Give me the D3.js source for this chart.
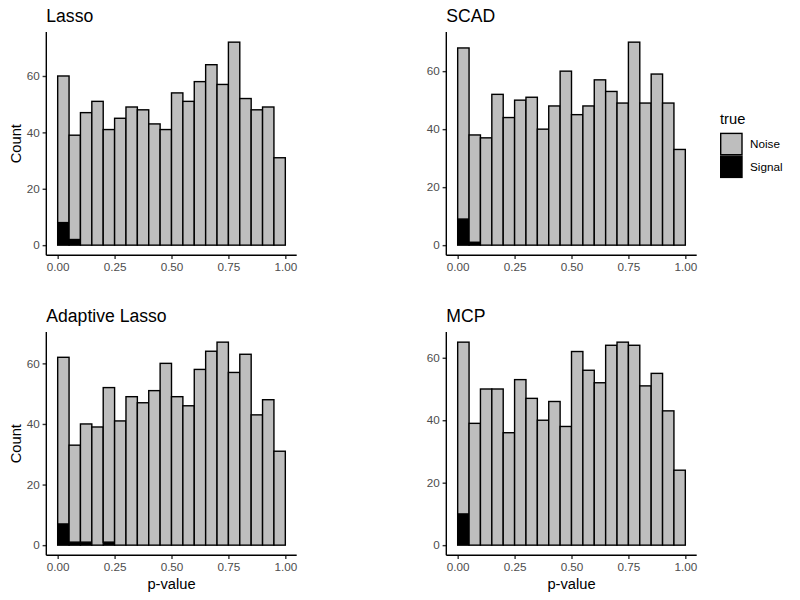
<!DOCTYPE html>
<html>
<head>
<meta charset="utf-8">
<script src="https://cdn.jsdelivr.net/npm/d3@7"></script>
<style>
  html, body { margin: 0; padding: 0; background: #ffffff; }
  svg { display: block; font-family: "Liberation Sans", Arial, sans-serif; }
</style>
</head>
<body>
<svg id="chart" width="800" height="600"></svg>
<script>
// ---------------- DATA ----------------
const methods = ["Lasso", "SCAD", "Adaptive Lasso", "MCP"];
const binStarts = [0.00, 0.05, 0.10, 0.15, 0.20, 0.25, 0.30, 0.35, 0.40, 0.45,
                   0.50, 0.55, 0.60, 0.65, 0.70, 0.75, 0.80, 0.85, 0.90, 0.95];
const binWidth = 0.05;
const groups = ["Signal", "Noise"];       // stacking order (Signal at bottom)
const legendOrder = ["Noise", "Signal"];
const legendTitle = "true";

const lassoNoise    = [52, 37, 47, 51, 41, 45, 49, 48, 43, 41, 54, 51, 58, 64, 57, 72, 52, 48, 49, 31];
const lassoSignal   = [ 8,  2,  0,  0,  0,  0,  0,  0,  0,  0,  0,  0,  0,  0,  0,  0,  0,  0,  0,  0];
const scadNoise     = [59, 37, 37, 52, 44, 50, 51, 40, 48, 60, 45, 48, 57, 53, 49, 70, 49, 59, 49, 33];
const scadSignal    = [ 9,  1,  0,  0,  0,  0,  0,  0,  0,  0,  0,  0,  0,  0,  0,  0,  0,  0,  0,  0];
const adaptNoise    = [55, 32, 39, 39, 51, 41, 49, 47, 51, 60, 49, 46, 58, 64, 67, 57, 63, 43, 48, 31];
const adaptSignal   = [ 7,  1,  1,  0,  1,  0,  0,  0,  0,  0,  0,  0,  0,  0,  0,  0,  0,  0,  0,  0];
const mcpNoise      = [55, 39, 50, 50, 36, 53, 47, 40, 46, 38, 62, 56, 52, 64, 65, 64, 51, 55, 43, 24];
const mcpSignal     = [10,  0,  0,  0,  0,  0,  0,  0,  0,  0,  0,  0,  0,  0,  0,  0,  0,  0,  0,  0];

const xTicks = [0, 0.25, 0.5, 0.75, 1.0];
const yTicks = [0, 20, 40, 60];
const xLabel = "p-value";
const yLabel = "Count";

// ---------------- STYLE / LAYOUT ----------------
const fills = { Noise: "#BEBEBE", Signal: "#000000" };
const panels = [
  { name: methods[0], noise: lassoNoise, signal: lassoSignal, x0: 46.3, x1: 296.7, y0: 32, y1: 255.3, showY: true,  showX: false },
  { name: methods[1], noise: scadNoise,  signal: scadSignal,  x0: 446.3, x1: 696.7, y0: 32, y1: 255.3, showY: false, showX: false },
  { name: methods[2], noise: adaptNoise, signal: adaptSignal, x0: 46.3, x1: 296.7, y0: 332, y1: 555.3, showY: true,  showX: true },
  { name: methods[3], noise: mcpNoise,   signal: mcpSignal,   x0: 446.3, x1: 696.7, y0: 332, y1: 555.3, showY: false, showX: true }
];
const lineW = 1.4;
const tickLen = 3.7;
const tickColor = "#333333";
const labelColor = "#4D4D4D";

const svg = d3.select("#chart");

panels.forEach(p => {
  const rows = binStarts.map((b, i) => ({ x: b, Signal: p.signal[i], Noise: p.noise[i] }));
  const stacked = d3.stack().keys(groups)(rows);
  const maxTotal = d3.max(rows, d => d.Signal + d.Noise);

  const xMin = binStarts[0], xMax = binStarts[binStarts.length - 1] + binWidth;
  const xPad = (xMax - xMin) * 0.05;
  const x = d3.scaleLinear().domain([xMin - xPad, xMax + xPad]).range([p.x0, p.x1]);
  const yPad = maxTotal * 0.05;
  const y = d3.scaleLinear().domain([-yPad, maxTotal + yPad]).range([p.y1, p.y0]);

  const g = svg.append("g");

  // bars: noise layer first drawn? draw in stack order, signal then noise
  stacked.forEach(layer => {
    g.append("g")
      .selectAll("rect")
      .data(layer.filter(d => d[1] - d[0] > 0))
      .join("rect")
      .attr("x", d => x(d.data.x))
      .attr("width", d => x(d.data.x + binWidth) - x(d.data.x))
      .attr("y", d => y(d[1]))
      .attr("height", d => y(d[0]) - y(d[1]))
      .attr("fill", fills[layer.key])
      .attr("stroke", "#000")
      .attr("stroke-width", lineW);
  });

  // axes
  const xAxis = d3.axisBottom(x).tickValues(xTicks).tickFormat(d3.format(".2f"))
    .tickSize(tickLen).tickPadding(3.2).tickSizeOuter(0);
  const yAxis = d3.axisLeft(y).tickValues(yTicks).tickFormat(d3.format("d"))
    .tickSize(tickLen).tickPadding(2.9).tickSizeOuter(0);

  const gx = g.append("g").attr("transform", `translate(0,${p.y1})`).call(xAxis);
  const gy = g.append("g").attr("transform", `translate(${p.x0},0)`).call(yAxis);

  [gx, gy].forEach(ax => {
    ax.select(".domain").remove();
    ax.selectAll(".tick line").attr("stroke", tickColor).attr("stroke-width", lineW);
    ax.selectAll(".tick text").attr("fill", labelColor)
      .style("font-size", "11.7px").style("font-family", "'Liberation Sans', Arial, sans-serif");
  });
  gx.selectAll(".tick text").attr("dy", "0.78em");

  // axis lines (theme_classic)
  g.append("line").attr("x1", p.x0).attr("x2", p.x1).attr("y1", p.y1).attr("y2", p.y1)
    .attr("stroke", "#000").attr("stroke-width", lineW);
  g.append("line").attr("x1", p.x0).attr("x2", p.x0).attr("y1", p.y0).attr("y2", p.y1)
    .attr("stroke", "#000").attr("stroke-width", lineW);

  // title
  g.append("text").attr("x", p.x0).attr("y", p.y0 - 10.3)
    .attr("fill", "#000").style("font-size", "17.6px").text(p.name);

  if (p.showY) {
    g.append("text")
      .attr("transform", `translate(20.8,${(p.y0 + p.y1) / 2}) rotate(-90)`)
      .attr("text-anchor", "middle").attr("fill", "#000").style("font-size", "14.7px")
      .text(yLabel);
  }
  if (p.showX) {
    g.append("text")
      .attr("x", (p.x0 + p.x1) / 2).attr("y", p.y1 + 34)
      .attr("text-anchor", "middle").attr("fill", "#000").style("font-size", "14.7px")
      .text(xLabel);
  }
});

// legend
const lg = svg.append("g").attr("transform", "translate(720,0)");
lg.append("text").attr("x", 0).attr("y", 124).attr("fill", "#000").style("font-size", "14.7px").text(legendTitle);
legendOrder.forEach((k, i) => {
  const top = 132.7 + i * 22.7;
  lg.append("rect").attr("x", 0.7).attr("y", top + 0.7).attr("width", 21.3).attr("height", 21.3)
    .attr("fill", fills[k]).attr("stroke", "#000").attr("stroke-width", lineW);
  lg.append("text").attr("x", 30).attr("y", top + 11.35).attr("dy", "0.36em")
    .attr("fill", "#000").style("font-size", "11.7px").text(k);
});
</script>
</body>
</html>
